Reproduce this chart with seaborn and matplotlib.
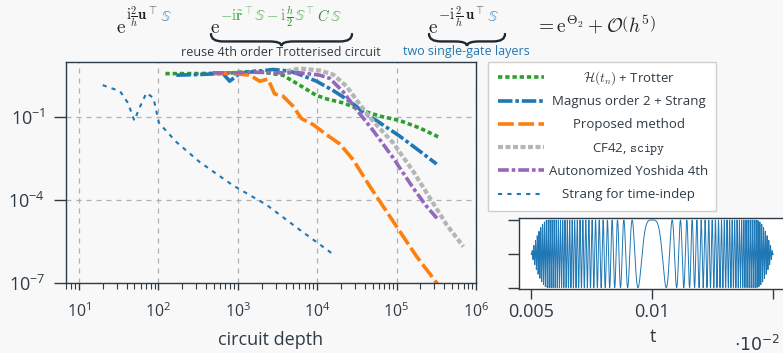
import numpy as np
import seaborn as sns
import matplotlib.pyplot as plt
from matplotlib.path import Path
from matplotlib.patches import PathPatch
from matplotlib.ticker import LogLocator, NullLocator, NullFormatter

# error vs circuit depth
trotter_depth = [123, 316, 794, 1740, 3720, 6030, 9770, 13200, 21400, 38000, 61700, 110000, 195000, 355000]
trotter_err = [3.8, 3.8, 4.0, 4.7, 3.3, 1.45, 0.62, 0.46, 0.33, 0.17, 0.11, 0.076, 0.041, 0.018]

magnus_depth = [169, 332, 653, 792, 1060, 1560, 2790, 4520, 6050, 9820, 15900, 25800, 38000, 56000,
                110000, 197000, 319000]
magnus_err = [3.34, 3.53, 3.84, 2.02, 3.84, 4.41, 5.36, 4.67, 3.53, 2.02, 0.93, 0.38, 0.156, 0.0757,
              0.0205, 0.00585, 0.00203]

proposed_depth = [489, 873, 1420, 1890, 2410, 2920, 3720, 4980, 6350, 8910, 13100, 19300, 28400, 46100,
                  74800, 110000, 179000, 335000]
proposed_err = [3.84, 3.84, 3.34, 2.02, 2.39, 0.70, 0.58, 0.25, 0.0895, 0.0542, 0.0235, 0.0108, 0.00291,
                3.14e-4, 3.89e-5, 7.33e-6, 9.08e-7, 8.5e-8]

cf42_depth = [4100, 6050, 10800, 15900, 23400, 34500, 50800, 90800, 162000, 263000, 427000, 692000]
cf42_err = [4.67, 5.82, 4.93, 3.53, 1.33, 0.288, 0.0716, 0.0117, 0.0011, 1.19e-4, 1.28e-5, 2.09e-6]

yoshida_depth = [489, 873, 1560, 3070, 6050, 10800, 14500, 21300, 31300, 50800, 90800, 162000, 239000, 335000]
yoshida_err = [4.06, 4.06, 4.29, 4.06, 4.06, 3.34, 2.53, 0.83, 0.19, 0.0328, 0.00335, 2.74e-4, 5.92e-5, 1.94e-5]

strang_depth = [20, 33, 41.5, 50, 58, 71, 87, 102, 169, 332, 873, 2300, 6050, 15900]
strang_err = [1.45, 0.88, 0.33, 0.0757, 0.218, 0.76, 0.50, 0.0622, 0.0127, 0.0024, 3.41e-4, 6.79e-5,
              8.41e-6, 1.10e-6]

labels = [r'$\mathcal{H}(t_n)$ + Trotter', 'Magnus order 2 + Strang', 'Proposed method',
          r'CF42, $\mathtt{scipy}$', 'Autonomized Yoshida 4th', 'Strang for time-indep']

# chirped pulse in the inset (start, end, centre, ramp time, chirp rate)
pulse_start, pulse_end, pulse_centre = 0.005, 0.015, 0.01
pulse_ramp = 0.0007
chirp_rate = 9.2e6

W, H = 783, 353
bg = '#f8f8f8'
ink = '#2f3b44'

sns.set_theme(style='ticks')
plt.rcParams['font.family'] = ['Open Sans', 'DejaVu Sans']
plt.rcParams.update({'text.color': ink, 'axes.labelcolor': ink, 'xtick.color': ink,
                     'ytick.color': ink, 'axes.edgecolor': ink, 'axes.linewidth': 1.0})

fig = plt.figure(figsize=(W / 100, H / 100), dpi=100, facecolor=bg)
ax = fig.add_axes([66 / W, 1 - 283 / H, 410 / W, 221 / H], facecolor=bg)
ax.set_xscale('log')
ax.set_yscale('log')

styles = [
    (trotter_depth, trotter_err, '#2ca02c', 2.6, (1.2, 0.8)),
    (magnus_depth, magnus_err, '#1f77b4', 2.6, (4, 0.8, 1, 0.8)),
    (proposed_depth, proposed_err, '#ff7f0e', 2.6, (4.4, 1.2)),
    (cf42_depth, cf42_err, '#b5b5b5', 3.0, (1.2, 0.6)),
    (yoshida_depth, yoshida_err, '#9467bd', 2.6, (3, 0.8, 1, 0.8)),
    (strang_depth, strang_err, '#1f77b4', 1.5, (2, 2.5)),
]
handles = []
for depth, err, col, lw, dash in styles:
    sns.lineplot(x=depth, y=err, ax=ax, color=col, lw=lw, linestyle=(0, dash),
                 estimator=None, sort=False, legend=False)
    handles.append(ax.lines[-1])

ax.set_xlim(6.9, 1e6)
ax.set_ylim(1e-7, 10)
ax.xaxis.set_major_locator(LogLocator(base=10, numticks=10))
ax.xaxis.set_minor_locator(LogLocator(base=10, subs=np.arange(2, 10), numticks=10))
ax.xaxis.set_minor_formatter(NullFormatter())
ax.set_yticks([1e-7, 1e-4, 1e-1])
ax.yaxis.set_minor_locator(NullLocator())
ax.grid(True, which='major', color='#b0b0b0', lw=0.9, linestyle=(0, (4, 4)))
ax.tick_params(axis='y', length=9, width=1, labelsize=13, pad=6)
ax.tick_params(axis='x', which='major', length=5, width=1, labelsize=11.5, pad=9)
ax.tick_params(axis='x', which='minor', length=4, width=0.8)
ax.set_xlabel('circuit depth', fontsize=13, labelpad=7)

# inset: the pulse
t = np.linspace(pulse_start, pulse_end, 60000)
env = (np.sin(np.pi / 2 * np.clip((t - pulse_start) / pulse_ramp, 0, 1))
       * np.sin(np.pi / 2 * np.clip((pulse_end - t) / pulse_ramp, 0, 1)))
sig = env * np.cos(chirp_rate * (t - pulse_centre) ** 2)
ins = fig.add_axes([519 / W, 1 - 289 / H, 268 / W, 71 / H], facecolor='white')
sns.lineplot(x=t, y=sig, ax=ins, color='#1f77b4', lw=0.7, estimator=None, sort=False)
ins.set_xlim(0.0045, 0.01557)
ins.set_ylim(-1.04, 1.06)
ins.set_xticks([0.005, 0.01, 0.015])
ins.set_xticklabels(['0.005', '0.01', ''])
ins.set_yticks([-1, 0, 1])
ins.set_yticklabels([])
ins.tick_params(axis='y', length=8, width=1)
ins.tick_params(axis='x', length=7, width=1, labelsize=13, pad=3)
ins.set_xlabel('t', fontsize=13, labelpad=5)
fig.text(734 / W, 1 - 351 / H, r'$\cdot 10^{-2}$', fontsize=12.5, va='baseline')

# legend: placeholders keep the rows equally wide, the real labels get centred on top
longest = 'Magnus order 2 + Strang'
leg = fig.legend(handles, [longest] * 6, loc='upper left', bbox_to_anchor=(488 / W, 1 - 62 / H),
                 borderaxespad=0, fontsize=9.5, handlelength=3.5, handletextpad=0.6,
                 labelspacing=0.78, borderpad=0.75, frameon=True, fancybox=False, framealpha=1)
leg.get_frame().set_facecolor('white')
leg.get_frame().set_edgecolor('#cfcfcf')
leg.get_frame().set_linewidth(1.0)
for txt in leg.get_texts():
    txt.set_alpha(0)

# equation above the plot
def chain(x_px, base_px, pieces):
    prev = None
    for s, col, size, rise in pieces:
        y = H - base_px + rise
        if prev is None:
            prev = fig.text(x_px / W, y / H, s, color=col, fontsize=size, va='baseline',
                            math_fontfamily='cm')
        else:
            prev = ax.annotate(s, xy=(1, y), xycoords=(prev, 'figure pixels'), color=col,
                               fontsize=size, va='baseline', ha='left', annotation_clip=False,
                               math_fontfamily='cm')


def brace(x0, x1, y, h):
    xm = (x0 + x1) / 2
    q = min(h, (x1 - x0) / 6)
    b = y + 0.62 * h
    pts = [(x0, y), (x0, b), (x0 + q, b), (xm - q, b), (xm, b),
           (xm, y + h), (xm, b), (xm + q, b), (x1 - q, b), (x1, b), (x1, y)]
    codes = [Path.MOVETO, Path.CURVE3, Path.CURVE3, Path.LINETO, Path.CURVE3, Path.CURVE3,
             Path.CURVE3, Path.CURVE3, Path.LINETO, Path.CURVE3, Path.CURVE3]
    verts = [(px / W, 1 - py / H) for px, py in pts]
    fig.add_artist(PathPatch(Path(verts, codes), transform=fig.transFigure, fill=False,
                             lw=1.7, color='#1f2a30', capstyle='round'))


black = '#222222'
blue = '#3a8bcc'
lgreen = '#55b055'
dgreen = '#2f8f2f'
es = 10.5
rs = 12
chain(116, 33, [(r'$\mathrm{e}$', black, 14, 0), (r'$\mathrm{i}\frac{2}{h}\mathbf{u}^{\top}$', black, es, rs),
                (r'$\,\mathbb{S}$', blue, es, rs)])
chain(210, 33, [(r'$\mathrm{e}$', black, 14, 0), (r'$-\mathrm{i}\tilde{\mathbf{r}}^{\top}\mathbb{S}-\mathrm{i}\,$', lgreen, es, rs),
                (r'$\frac{h}{2}$', dgreen, es, rs), (r'$\mathbb{S}^{\top}$', lgreen, es, rs),
                (r'$\,C\,$', dgreen, es, rs), (r'$\mathbb{S}$', lgreen, es, rs)])
chain(428, 33, [(r'$\mathrm{e}$', black, 14, 0), (r'$-\mathrm{i}\,\frac{2}{h}\,\mathbf{u}^{\top}$', black, es, rs),
                (r'$\,\mathbb{S}$', blue, es, rs)])
chain(535, 33, [(r'$=\mathrm{e}^{\Theta_2}+\mathcal{O}\left(h^{5}\right)$', black, 14, 0)])
brace(211, 352, 34, 12)
brace(429, 505, 34, 12)
fig.text(281 / W, 1 - 56 / H, 'reuse 4th order Trotterised circuit', fontsize=9, ha='center',
         va='baseline', color=ink)
fig.text(466 / W, 1 - 55 / H, 'two single-gate layers', fontsize=9, ha='center',
         va='baseline', color='#1f77b4')

fig.canvas.draw()
r = fig.canvas.get_renderer()
for txt, lab in zip(leg.get_texts(), labels):
    bb = txt.get_window_extent(r)
    _, _, d = r.get_text_width_height_descent('lp', txt.get_fontproperties(), ismath=False)
    fig.text((bb.x0 + bb.x1) / 2 / W, (bb.y0 + d) / H, lab, fontsize=9.5, ha='center',
             va='baseline', color=ink, math_fontfamily='cm', zorder=10)

fig.savefig('out.png', dpi=100, facecolor=bg)
